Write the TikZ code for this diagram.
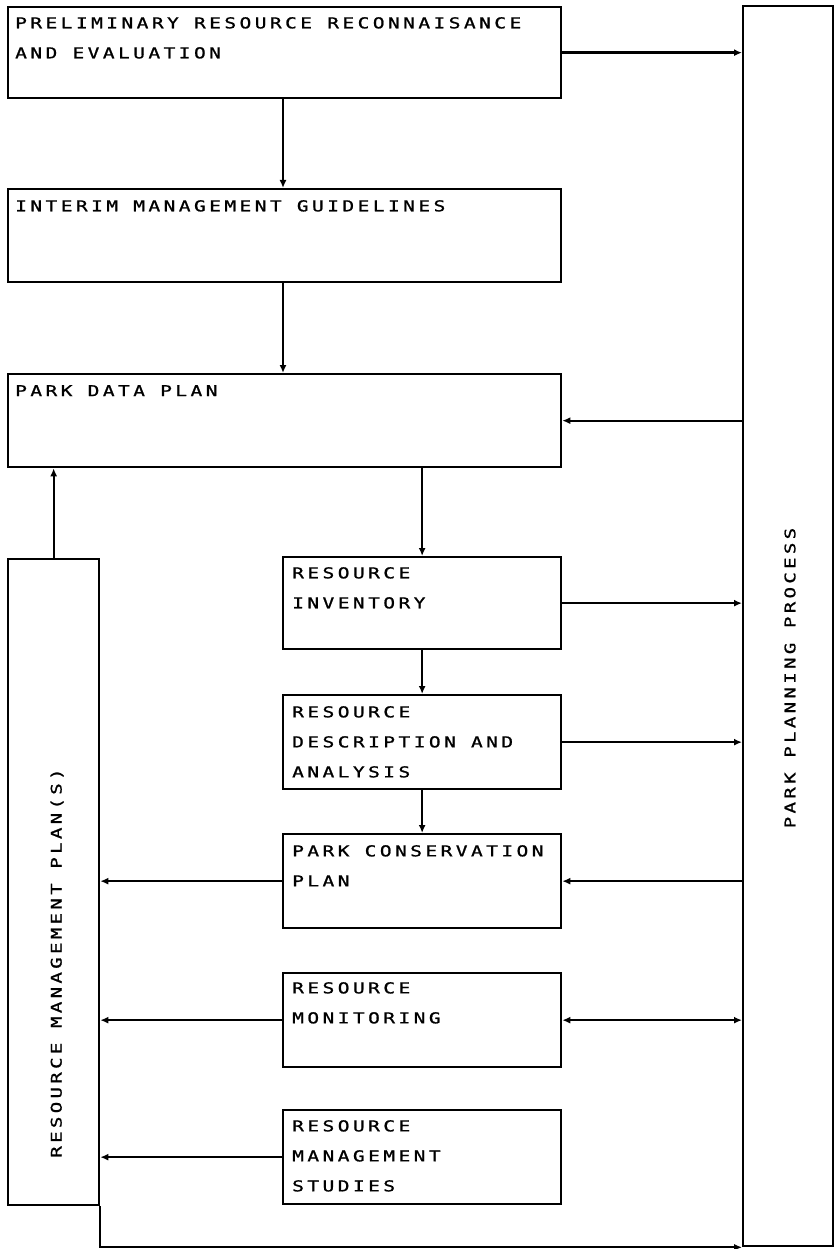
\documentclass[tikz,border=0pt]{standalone}
\usepackage{fontspec}
\newfontfamily\plotfont[LetterSpace=23,FakeStretch=1.3,FakeBold=1.2]{DejaVu Sans Mono}
\usetikzlibrary{arrows.meta}
\begin{document}
\begin{tikzpicture}[x=1pt,y=-1pt,
  box/.style={draw, line width=2.3pt, rectangle, anchor=north west, inner sep=0pt},
  txt/.style={anchor=north west, inner sep=0pt, align=left,
    font=\plotfont\fontsize{15pt}{30pt}\selectfont},
  vtxt/.style={rotate=90, inner sep=0pt,
    font=\plotfont\fontsize{14.6pt}{30pt}\selectfont},
  conn/.style={line width=2.3pt, -{Latex[length=8pt,width=7pt]}},
  conn2/.style={line width=2.3pt, {Latex[length=8pt,width=7pt]}-{Latex[length=8pt,width=7pt]}}
]
\fill[white] (0,0) rectangle (835,1249);
\useasboundingbox (0,0) rectangle (835,1249);

% boxes
\node[box, minimum width=553pt, minimum height=91pt] (b1) at (7,6) {};
\node[box, minimum width=553pt, minimum height=93pt] (b2) at (7,188) {};
\node[box, minimum width=553pt, minimum height=93pt] (b3) at (7,373) {};
\node[box, minimum width=90pt, minimum height=1240pt] (R) at (742,5) {};
\node[box, minimum width=91pt, minimum height=646pt] (L) at (7,558) {};
\node[box, minimum width=278pt, minimum height=92pt] (inv) at (282,556) {};
\node[box, minimum width=278pt, minimum height=94pt] (desc) at (282,694) {};
\node[box, minimum width=278pt, minimum height=94pt] (cons) at (282,833) {};
\node[box, minimum width=278pt, minimum height=94pt] (mon) at (282,972) {};
\node[box, minimum width=278pt, minimum height=94pt] (stud) at (282,1109) {};

% texts
\node[txt] (t1) at (15,17) {PRELIMINARY RESOURCE RECONNAISANCE\\AND EVALUATION};
\node[txt] (t2) at (15,200) {INTERIM MANAGEMENT GUIDELINES};
\node[txt] (t3) at (15,385) {PARK DATA PLAN};
\node[txt] (t4) at (292,567) {RESOURCE\\INVENTORY};
\node[txt] (t5) at (292,706) {RESOURCE\\DESCRIPTION AND\\ANALYSIS};
\node[txt] (t6) at (292,845) {PARK CONSERVATION\\PLAN};
\node[txt] (t7) at (292,982) {RESOURCE\\MONITORING};
\node[txt] (t8) at (292,1120) {RESOURCE\\MANAGEMENT\\STUDIES};
\node[vtxt] (t9) at (790,678) {PARK PLANNING PROCESS};
\node[vtxt] (t10) at (57,963) {RESOURCE MANAGEMENT PLAN(S)};

% connectors
\coordinate (x283) at (283,0);
\draw[conn] (b1.east) -- (b1.east -| R.west);
\draw[conn] (b1.south -| x283) -- (b2.north -| x283);
\draw[conn] (b2.south -| x283) -- (b3.north -| x283);
\draw[conn] (b3.east -| R.west) -- (b3.east);
\draw[conn] (L.north) -- (L.north |- b3.south);
\draw[conn] (b3.south -| inv.north) -- (inv.north);
\draw[conn] (inv.east) -- (inv.east -| R.west);
\draw[conn] (inv.south) -- (desc.north);
\draw[conn] (desc.east) -- (desc.east -| R.west);
\draw[conn] (desc.south) -- (cons.north);
\draw[conn] (cons.east -| R.west) -- (cons.east);
\draw[conn] (cons.west) -- (cons.west -| L.east);
\draw[conn2] (mon.east) -- (mon.east -| R.west);
\draw[conn] (mon.west) -- (mon.west -| L.east);
\draw[conn] (stud.west) -- (stud.west -| L.east);
\draw[conn] (L.south east) |- (R.south west);
\end{tikzpicture}
\end{document}
